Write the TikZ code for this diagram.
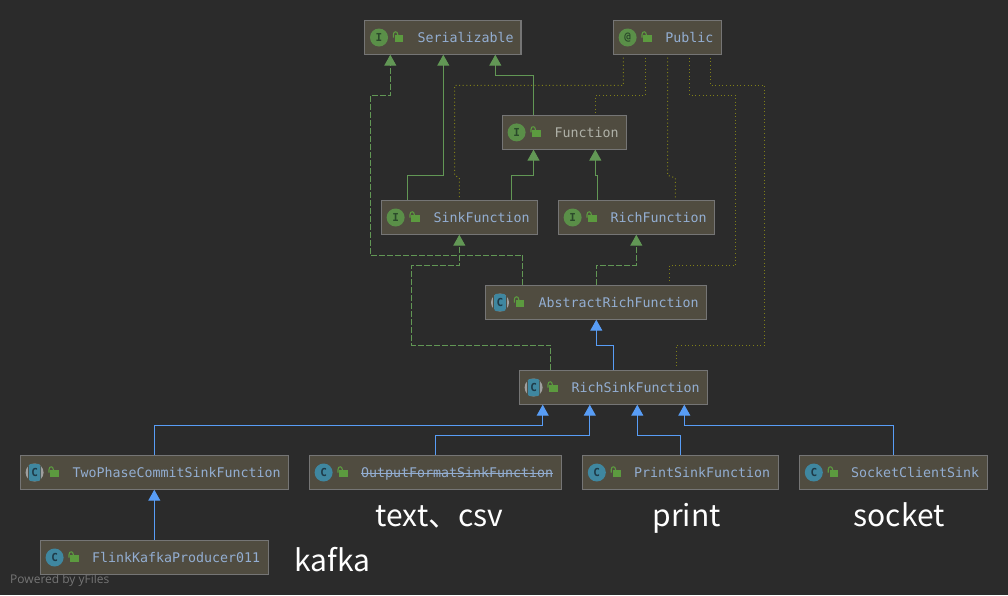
\documentclass[tikz,border=0pt]{standalone}
\usepackage{fontspec}
\usetikzlibrary{arrows.meta}
\newfontfamily\monof{DejaVu Sans Mono}
\newfontfamily\cjkf{Noto Sans CJK SC}
\newfontfamily\yf{Open Sans}
\definecolor{bgc}{HTML}{2B2B2B}
\definecolor{boxfill}{HTML}{504C40}
\definecolor{boxline}{HTML}{757575}
\definecolor{gr}{HTML}{629755}
\definecolor{bl}{HTML}{589DF6}
\definecolor{dt}{HTML}{808018}
\definecolor{ifc}{HTML}{5A8F48}
\definecolor{clsc}{HTML}{3F87A0}
\definecolor{blt}{HTML}{93AED2}
\definecolor{grt}{HTML}{AFB1A8}
\definecolor{icdk}{HTML}{2B4A2B}
\definecolor{icdc}{HTML}{1E3A48}
\definecolor{lockc}{HTML}{5C9A3F}
\tikzset{
  umlbox/.style={draw=boxline,fill=boxfill,line width=1.1pt,inner sep=0pt,outer sep=0pt,
    minimum height=34.4pt,anchor=north west,text height=12pt,text depth=2.6pt,
    font=\monof\fontsize{13.3}{15}\selectfont},
  iconi/.style={circle,fill=ifc,minimum size=18pt,inner sep=0pt,text=icdk,font=\monof\bfseries\fontsize{11}{11}\selectfont},
  iconc/.style={circle,fill=clsc,minimum size=18pt,inner sep=0pt,text=icdc,font=\monof\bfseries\fontsize{11}{11}\selectfont},
  icona/.style={circle,fill=gray!75,minimum size=18pt,inner sep=0pt},
  iconb/.style={rectangle,fill=clsc,rounded corners=2.5pt,minimum width=11.6pt,minimum height=17.4pt,inner sep=0pt,text=icdc,font=\monof\bfseries\fontsize{11}{11}\selectfont},
  icongap/.style={rectangle,fill=boxfill,minimum width=13.6pt,minimum height=14pt,inner sep=0pt},
  solidg/.style={draw=gr,line width=1pt,-{Triangle[width=12pt,length=11pt,fill=gr]}},
  dashg/.style={draw=gr,line width=1pt,dash pattern=on 6pt off 2pt,-{Triangle[width=12pt,length=11pt,fill=gr,sep=0pt]}},
  solidb/.style={draw=bl,line width=1pt,-{Triangle[width=12pt,length=11pt,fill=bl]}},
  dots/.style={draw=dt,line width=1pt,dash pattern=on 1pt off 2.6pt,shorten <=3pt,shorten >=3pt},
  biglabel/.style={anchor=base west,inner sep=0pt,text=white,font=\cjkf\fontsize{30}{32}\selectfont},
}
\newcommand{\lockat}[1]{%
  \begin{scope}[shift={(#1.west)}]
    \fill[lockc] (30,-2.2) rectangle (38.5,4.6);
    \draw[lockc,line width=1.1pt] (28.7,0) -- (28.7,-3) .. controls (28.7,-6.6) and (33,-6.6) .. (33,-3) -- (33,-2);
  \end{scope}}
% name, x, y, width, text offset, colour, text
\newcommand{\boxat}[7]{%
  \node[umlbox,minimum width=#4pt] (#1) at (#2,#3)
    {\makebox[#4pt][l]{\hspace{#5pt}\textcolor{#6}{#7}}};\lockat{#1}}
\newcommand{\icI}[2]{\node[iconi] (#1-i) at ([xshift=14.3pt]#1.west) {#2};}
\newcommand{\icC}[1]{\node[iconc] (#1-i) at ([xshift=14.3pt]#1.west) {C};}
\newcommand{\icA}[1]{\node[icona] (#1-i) at ([xshift=14.3pt]#1.west) {};
  \node[icongap] (#1-g) at (#1-i) {};
  \node[iconb] (#1-b) at (#1-i) {C};}
\begin{document}
\begin{tikzpicture}[x=1pt,y=-1pt]
\useasboundingbox (0,0) rectangle (1008,595);
\fill[bgc] (0,0) rectangle (1008,595);
% boxes
\boxat{ser}{364.7}{20.3}{156.3}{52.8}{blt}{Serializable}\icI{ser}{I}
\boxat{pub}{613.3}{20.3}{108.4}{52}{blt}{Public}\icI{pub}{@}
\boxat{fun}{502.3}{115.2}{124.4}{52.2}{grt}{Function}\icI{fun}{I}
\boxat{sink}{381.3}{200.3}{156}{52.2}{blt}{SinkFunction}\icI{sink}{I}
\boxat{rich}{558.3}{200.3}{156.4}{52.2}{blt}{RichFunction}\icI{rich}{I}
\boxat{abs}{485.7}{285.3}{221}{52.8}{blt}{AbstractRichFunction}\icA{abs}
\boxat{rsf}{519.3}{370.3}{188.4}{52.2}{blt}{RichSinkFunction}\icA{rsf}
\boxat{two}{20.3}{455.3}{268.4}{52.2}{blt}{TwoPhaseCommitSinkFunction}\icA{two}
\boxat{out}{309.3}{455.3}{252.2}{51.7}{blt}{\rlap{\raisebox{3.4pt}{\rule{192pt}{0.9pt}}}OutputFormatSinkFunction}\icC{out}
\boxat{pri}{582.5}{455.3}{196}{51.5}{blt}{PrintSinkFunction}\icC{pri}
\boxat{soc}{799.5}{455.3}{188.3}{51.5}{blt}{SocketClientSink}\icC{soc}
\boxat{fli}{40.3}{540.3}{228.4}{51.7}{blt}{FlinkKafkaProducer011}\icC{fli}
% dotted realisation of the Public annotation
\draw[dots] (623.3,0 |- pub.south) -- (623.3,85.3) -- (454.7,85.3) -- (454.7,175.3) -- (459.3,178) -- (459.3,0 |- sink.north);
\draw[dots] (645.3,0 |- pub.south) -- (645.3,95.3) -- (595.3,95.3) -- (595.3,0 |- fun.north);
\draw[dots] (667.7,0 |- pub.south) -- (667.7,175.3) -- (675.3,178) -- (675.3,0 |- rich.north);
\draw[dots] (689.7,0 |- pub.south) -- (689.7,95.3) -- (735.7,95.3) -- (735.7,265.3) -- (669.3,265.3) -- (669.3,0 |- abs.north);
\draw[dots] (710.3,0 |- pub.south) -- (710.3,85.3) -- (764.7,85.3) -- (764.7,345.3) -- (676.7,345.3) -- (676.7,0 |- rsf.north);
% green
\draw[dashg] (522.5,0 |- abs.north) -- (522.5,255.3) -- (370.3,255.3) -- (370.3,95.3) -- (390.3,95.3) -- (390.3,0 |- ser.south);
\draw[solidg] (407.3,0 |- sink.north) -- (407.3,175.3) -- (443.3,175.3) -- (443.3,0 |- ser.south);
\draw[solidg] (533.5,0 |- fun.north) -- (533.5,75.3) -- (495.3,75.3) -- (495.3,0 |- ser.south);
\draw[solidg] (511.3,0 |- sink.north) -- (511.3,175.3) -- (533.5,175.3) -- (533.5,0 |- fun.south);
\draw[solidg] (597.7,0 |- rich.north) -- (597.7,175.3) -- (595.3,175.3) -- (595.3,0 |- fun.south);
\draw[dashg] (550.7,0 |- rsf.north) -- (550.7,345.3) -- (411.7,345.3) -- (411.7,265.3) -- (459.3,265.3) -- (459.3,0 |- sink.south);
\draw[dashg] (596.3,0 |- abs.north) -- (596.3,265.3) -- (636.3,265.3) -- (636.3,0 |- rich.south);
% blue
\draw[solidb] (613.3,0 |- rsf.north) -- (613.3,345.3) -- (596.3,345.3) -- (596.3,0 |- abs.south);
\draw[solidb] (154.3,0 |- two.north) -- (154.3,425.3) -- (542.7,425.3) -- (542.7,0 |- rsf.south);
\draw[solidb] (435.2,0 |- out.north) -- (435.2,435.3) -- (589.8,435.3) -- (589.8,0 |- rsf.south);
\draw[solidb] (680.5,0 |- pri.north) -- (680.5,435.3) -- (637.3,435.3) -- (637.3,0 |- rsf.south);
\draw[solidb] (893.7,0 |- soc.north) -- (893.7,425.3) -- (684.3,425.3) -- (684.3,0 |- rsf.south);
\draw[solidb] (154.3,0 |- fli.north) -- (154.3,0 |- two.south);
% big labels
\node[biglabel] (l1) at (375.5,526) {text、csv};
\node[biglabel] (l2) at (652.5,526) {print};
\node[biglabel] (l3) at (853.5,526) {socket};
\node[biglabel] (l4) at (294.5,571) {kafka};
\node[anchor=base west,inner sep=0pt,text=white!35!bgc,font=\yf\fontsize{12}{14}\selectfont] (pw) at (10,583) {Powered by yFiles};
\end{tikzpicture}
\end{document}
